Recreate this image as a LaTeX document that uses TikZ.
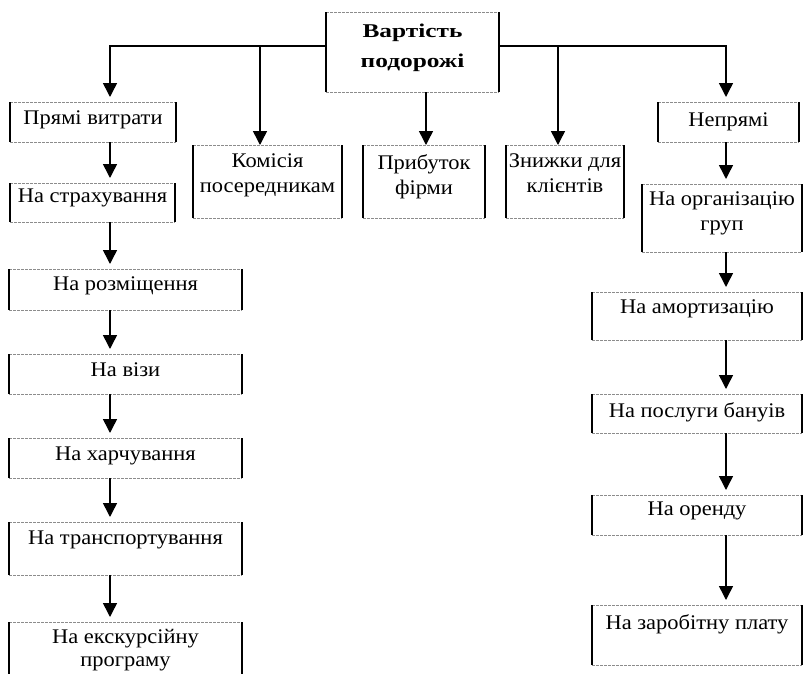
\documentclass[tikz,border=0pt]{standalone}
\usepackage{fontspec}
\setmainfont[FakeStretch=1.08]{Liberation Serif}
\newfontfamily\rootfont[FakeStretch=1.3]{Liberation Serif}
\usetikzlibrary{arrows.meta,calc}
\tikzset{
  boxframe/.style={draw=none, inner sep=0pt, outer sep=0pt, rectangle},
  hedge/.style={draw=black!45, line width=0.6pt, dash pattern=on 3pt off 1pt},
  vedge/.style={draw=black, line width=1.1pt},
  lbl/.style={anchor=north, inner sep=0pt, align=center, font=\fontsize{20.8}{25}\selectfont},
  lbltight/.style={anchor=north, inner sep=0pt, align=center, font=\fontsize{20.8}{23}\selectfont},
  rootlbl/.style={anchor=north, inner sep=0pt, align=center, font=\rootfont\fontsize{19.5}{30}\selectfont\bfseries},
  arr/.style={draw=black, line width=1.5pt, -{Triangle[width=14pt,length=14pt]}},
  gap/.style={shorten >=5pt},
}
\newcommand{\tbox}[8][lbl]{%
  \node[boxframe, minimum width={(#5-#3)*1pt}, minimum height={(#6-#4)*1pt}] (#2) at ({(#3+#5)/2},{(#4+#6)/2}) {};
  \draw[hedge] (#2.north west) -- (#2.north east);
  \draw[hedge] (#2.south west) -- (#2.south east);
  \draw[vedge] (#2.north west) -- (#2.south west);
  \draw[vedge] (#2.north east) -- (#2.south east);
  \node[#1] (#2-t) at ([yshift=-#7pt]#2.north) {#8};
}
\begin{document}
\begin{tikzpicture}[x=1pt,y=-1pt]
\clip (0,0) rectangle (804,673);
\useasboundingbox (0,0) rectangle (804,673);
\tbox[rootlbl]{root}{326}{12}{499}{92}{12}{Вартість\\подорожі}
\tbox{pryami}{10}{102}{176}{142}{9}{Прямі витрати}
\tbox{komis}{193}{145}{342}{218}{9}{Комісія\\посередникам}
\tbox{prybutok}{363}{145}{485}{218}{9}{Прибуток\\фірми}
\tbox{znyzhky}{506}{145}{624}{218}{9}{Знижки для\\клієнтів}
\tbox{nepryami}{658}{102}{799}{142}{11}{Непрямі}
\tbox{org}{642}{184}{802}{252}{8}{На організацію\\груп}
\tbox{amort}{592}{292}{802}{340}{8}{На амортизацію}
\tbox{banky}{592}{394}{802}{433}{8}{На послуги бануів}
\tbox{orenda}{592}{495}{802}{535}{7}{На оренду}
\tbox{zarplata}{592}{605}{802}{665}{9}{На заробітну плату}
\tbox{strakh}{10}{183}{175}{222}{6}{На страхування}
\tbox{rozm}{9}{269}{242}{310}{8}{На розміщення}
\tbox{vizy}{9}{354}{242}{394}{9}{На візи}
\tbox{kharch}{9}{438}{242}{478}{9}{На харчування}
\tbox{transp}{9}{522}{242}{575}{9}{На транспортування}
\tbox[lbltight]{ekskurs}{9}{622}{242}{700}{7}{На екскурсійну\\програму}

\coordinate (busL) at (326,46);
\coordinate (busR) at (499,46);
\coordinate (lx) at (110,0);
\coordinate (rx) at (726,0);
\coordinate (kx) at (260,46);
\coordinate (px) at (426,0);
\coordinate (zx) at (558,46);

\draw[arr,gap] (busL) -| (lx |- pryami.north);
\draw[arr] (kx) -- (kx |- komis.north);
\draw[arr] (px |- root.south) -- (px |- prybutok.north);
\draw[arr] (zx) -- (zx |- znyzhky.north);
\draw[arr,gap] (busR) -| (rx |- nepryami.north);

\draw[arr,gap] (lx |- pryami.south) -- (lx |- strakh.north);
\draw[arr,gap] (lx |- strakh.south) -- (lx |- rozm.north);
\draw[arr,gap] (lx |- rozm.south) -- (lx |- vizy.north);
\draw[arr,gap] (lx |- vizy.south) -- (lx |- kharch.north);
\draw[arr,gap] (lx |- kharch.south) -- (lx |- transp.north);
\draw[arr,gap] (lx |- transp.south) -- (lx |- ekskurs.north);

\draw[arr,gap] (rx |- nepryami.south) -- (rx |- org.north);
\draw[arr,gap] (rx |- org.south) -- (rx |- amort.north);
\draw[arr,gap] (rx |- amort.south) -- (rx |- banky.north);
\draw[arr,gap] (rx |- banky.south) -- (rx |- orenda.north);
\draw[arr,gap] (rx |- orenda.south) -- (rx |- zarplata.north);
\end{tikzpicture}
\end{document}
